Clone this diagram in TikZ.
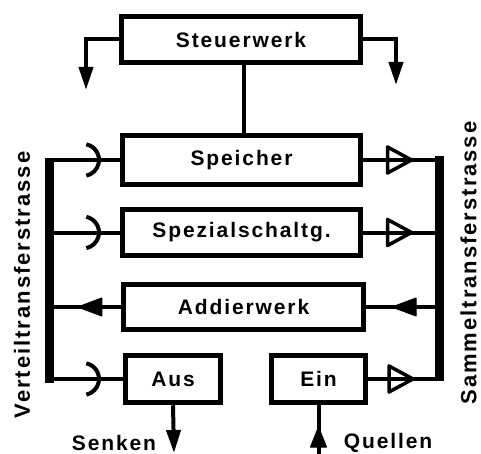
\documentclass[tikz,border=0pt]{standalone}
\usepackage{fontspec}
\setmainfont{Liberation Sans}[LetterSpace=9]
\usetikzlibrary{arrows.meta,decorations.markings}
\tikzset{
  box/.style={draw, line width=5.5pt, inner sep=0pt, font=\fontsize{21}{24}\selectfont\bfseries},
  lbl/.style={inner sep=0pt, font=\fontsize{21}{24}\selectfont\bfseries},
  side/.style={inner sep=0pt, font=\fontsize{22}{26}\selectfont\bfseries},
  link/.style={line width=4pt},
  bus/.style={line width=9pt},
  tri/.style={postaction={decorate}, decoration={markings, mark=at position #1 with {\draw[line width=3.5pt, line join=round] (-24pt,-13pt) -- (0pt,0pt) -- (-24pt,13pt) -- cycle;}}},
  farr/.style={postaction={decorate}, decoration={markings, mark=at position #1 with {\filldraw[line width=1pt, line join=round] (-24pt,-9pt) -- (0pt,0pt) -- (-24pt,9pt) -- cycle;}}},
  farrs/.style={postaction={decorate}, decoration={markings, mark=at position #1 with {\filldraw[line width=1pt, line join=round] (-20pt,-8pt) -- (0pt,0pt) -- (-20pt,8pt) -- cycle;}}},
  downarr/.style={-{Triangle[length=23pt, width=14pt]}},
}
\begin{document}
\begin{tikzpicture}[x=1pt, y=-1pt]
\useasboundingbox (0,0) rectangle (481,454);
% boxes
\node[box, minimum width=239pt, minimum height=46pt] (steuer) at (241,39.5) {Steuerwerk};
\node[box, minimum width=238pt, minimum height=49pt] (speicher) at (241.5,160) {Speicher};
\node[box, minimum width=238pt, minimum height=46pt] (spezial) at (241.5,232.5) {Spezialschaltg.};
\node[box, minimum width=240pt, minimum height=45pt] (addier) at (243.5,307) {Addierwerk};
\node[box, minimum width=95pt, minimum height=47pt] (aus) at (173,379) {Aus};
\node[box, minimum width=94pt, minimum height=47pt] (ein) at (318.5,379) {Ein};
% coordinates
\coordinate (sl) at (86,90);
\coordinate (sr) at (396,85);
\coordinate (vt) at (49,158);
\coordinate (vb) at (49,383);
\coordinate (st) at (439,156);
\coordinate (sb) at (439,381);
\coordinate (arcx) at (83,0);
\coordinate (senk) at (174,453);
\coordinate (qbot) at (318.5,457);
% Steuerwerk
\draw[link, downarr] (steuer.west) -| (sl);
\draw[link, downarr] (steuer.east) -| (sr);
\draw[link] ([xshift=3pt]steuer.south) -- ([xshift=2.5pt]speicher.north);
% buses
\draw[bus] (vt) -- (vb);
\draw[bus] (st) -- (sb);
% left side (Verteil)
\draw[link] (speicher.west -| vt) -- (speicher.west);
\draw[link] (spezial.west -| vt) -- (spezial.west);
\draw[link] (aus.west -| vt) -- (aus.west);
\foreach \n in {speicher, spezial, aus} {
  \draw[link] (\n.west -| arcx) ++(78:16pt) arc[start angle=78, end angle=-78, radius=16pt];
}
\draw[link, farr=43pt] (addier.west) -- (addier.west -| vt);
% right side (Sammel)
\draw[link, tri=-27.5pt] (speicher.east) -- (speicher.east -| st);
\draw[link, tri=-27.5pt] (spezial.east) -- (spezial.east -| st);
\draw[link, tri=-26pt] (ein.east) -- (ein.east -| st);
\draw[link, farr=47pt] (addier.east -| st) -- (addier.east);
% sinks and sources
\draw[link, downarr] (aus.south) -- (senk);
\draw[link, farrs=30pt] (qbot) -- (ein.south);
% labels
\node[lbl] (senken) at (114,443) {Senken};
\node[lbl] (quellen) at (388,443) {Quellen};
\node[side, rotate=90] (vts) at (22,285) {Verteiltransferstrasse};
\node[side, rotate=90] (sts) at (468.5,263) {Sammeltransferstrasse};
\end{tikzpicture}
\end{document}
